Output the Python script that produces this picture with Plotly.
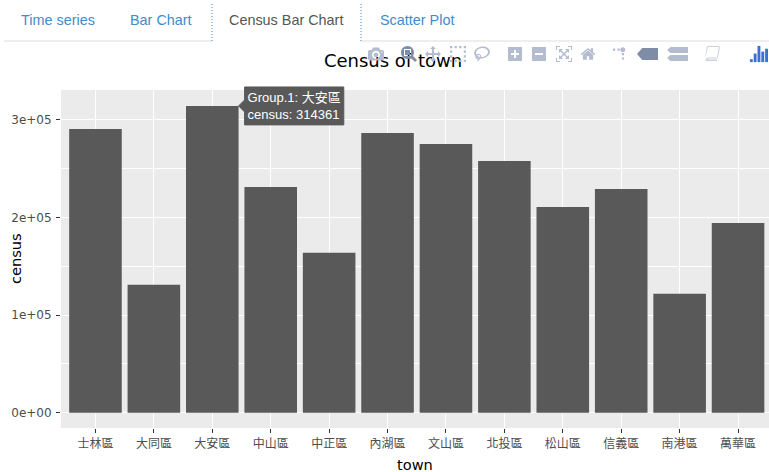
import plotly.graph_objects as go

towns = ["士林區", "大同區", "大安區", "中山區", "中正區", "內湖區", "文山區", "北投區", "松山區", "信義區", "南港區", "萬華區"]
census = [290700, 131000, 314361, 231400, 163800, 286700, 275400, 258000, 210900, 229300, 121800, 194500]
tab_names = ["Time series", "Bar Chart", "Census Bar Chart", "Scatter Plot"]
tab_colors = ["#428BCA", "#428BCA", "#555555", "#428BCA"]
tab_x = [58, 161, 286, 417]
y_ticks = [0, 100000, 200000, 300000]
y_labels = ["0e+00", "1e+05", "2e+05", "3e+05"]

W = 769
H = 472
L, R, T, B = 61, 769, 90, 428
CJK = "'DejaVu Sans', 'Noto Sans CJK TC', sans-serif"


def px(x):
    return (x - L) / (R - L)


def py(y):
    return (B - y) / (B - T)


# bars, with the ggplotly style hover text
trace = go.Bar(
    x=towns,
    y=census,
    width=0.9,
    marker=dict(color="#595959", line=dict(width=0)),
    hovertext=[f"Group.1: {t}<br>census: {c}" for t, c in zip(towns, census)],
    hoverinfo="text",
    hoverlabel=dict(bgcolor="#595959", bordercolor="#595959",
                    font=dict(family="'Liberation Sans', 'Noto Sans CJK TC'", size=13, color="white")),
)

# tab bar above the plot
shapes = [
    dict(type="line", xref="paper", yref="paper", x0=px(4), x1=px(212), y0=py(41), y1=py(41),
         line=dict(color="#DDDDDD", width=1)),
    dict(type="line", xref="paper", yref="paper", x0=px(361), x1=px(769), y0=py(41), y1=py(41),
         line=dict(color="#DDDDDD", width=1)),
    dict(type="line", xref="paper", yref="paper", x0=px(212), x1=px(212), y0=py(4), y1=py(41),
         line=dict(color="#428BCA", width=1, dash="1px,2px")),
    dict(type="line", xref="paper", yref="paper", x0=px(361), x1=px(361), y0=py(4), y1=py(41),
         line=dict(color="#428BCA", width=1, dash="1px,2px")),
]
annotations = [
    dict(text=name, x=px(x), y=py(20), xref="paper", yref="paper", showarrow=False,
         xanchor="center", yanchor="middle",
         font=dict(family="'Liberation Sans', Arial, sans-serif", size=14.4, color=color))
    for name, color, x in zip(tab_names, tab_colors, tab_x)
]
# axis titles placed by hand so the margins stay fixed
annotations += [
    dict(text="town", x=px(415), y=py(464), xref="paper", yref="paper", showarrow=False,
         xanchor="center", yanchor="middle", font=dict(size=14.6, color="black")),
    dict(text="census", x=px(15), y=py(259), xref="paper", yref="paper", showarrow=False,
         xanchor="center", yanchor="middle", textangle=-90, font=dict(size=14.6, color="black")),
]

fig = go.Figure(data=[trace])
fig.update_layout(
    width=W,
    height=H,
    margin=dict(l=L, r=W - R, t=T, b=H - B, pad=0),
    paper_bgcolor="white",
    plot_bgcolor="#EBEBEB",
    bargap=0.1,
    showlegend=False,
    hovermode="closest",
    font=dict(family=CJK),
    title=dict(text="Census of town", x=393 / W, xanchor="center",
               y=1 - 61 / H, yanchor="middle", font=dict(family=CJK, size=18, color="black")),
    shapes=shapes,
    annotations=annotations,
    modebar=dict(bgcolor="rgba(0,0,0,0)", color="#B4BCCF", activecolor="#7F8CA8"),
)
fig.update_xaxes(
    type="category",
    categoryorder="array",
    categoryarray=towns,
    range=[-0.59, 11.53],
    automargin=False,
    tickfont=dict(size=12, color="#4D4D4D"),
    ticks="outside",
    ticklen=4,
    tickcolor="#333333",
    ticklabelstandoff=1,
    gridcolor="white",
    gridwidth=1,
    zeroline=False,
)
fig.update_yaxes(
    range=[-15700, 330700],
    automargin=False,
    tickvals=y_ticks,
    ticktext=y_labels,
    tickfont=dict(size=12, color="#4D4D4D"),
    ticks="outside",
    ticklen=4,
    tickcolor="#333333",
    ticklabelstandoff=2,
    gridcolor="white",
    gridwidth=1,
    zeroline=False,
    minor=dict(tickvals=[50000, 150000, 250000], showgrid=True, gridcolor="white", gridwidth=0.5, ticks=""),
)

# page tweaks: no body margin, modebar under the tabs, old style logo and book button, hover on 大安區
post = """
document.body.style.margin = '0';
var gd = document.getElementById('{plot_id}');
var css = document.createElement('style');
css.textContent = '.modebar-btn { padding-left: 4.25px !important; padding-right: 4.25px !important; }';
document.head.appendChild(css);
var box = gd.querySelector('.modebar-container');
if (box) { box.style.top = '41px'; box.style.right = '-5px'; box.style.width = '100%'; }
gd.querySelectorAll('.modebar-btn[data-val="closest"] svg, .modebar-btn[data-val="x"] svg').forEach(function (s) {
    s.setAttribute('preserveAspectRatio', 'none');
    s.style.width = '21px';
});
var logo = gd.querySelector('.modebar-btn--logo');
if (logo) {
    var bars = '';
    [[2,16,3],[6,10,9],[10,2,17],[14,8,11],[18,5,14]].forEach(function (b) {
        bars += '<rect x="' + b[0] + '" y="' + b[1] + '" width="3" height="' + b[2] + '" fill="#3D6FD0"/>';
    });
    logo.innerHTML = '<svg width="20" height="20" viewBox="0 0 21 21">' + bars + '</svg>';
    var logoGroup = logo.parentNode;
    logoGroup.style.marginLeft = '11px';
    var book = document.createElement('div');
    book.className = 'modebar-group';
    book.innerHTML = '<a class="modebar-btn"><svg width="16" height="16" viewBox="0 0 16 16">'
        + '<path d="M4 1h11l-2 10.5H3.2L1.5 14c0 .6.4 1 1 1h10.4l.3-1.5H3.5l.4-1h9.8L16 1.5 15 0H4C3.4 0 3 .4 2.8 1L1 12z" fill="#CBD0DD"/>'
        + '</svg></a>';
    logoGroup.parentNode.insertBefore(book, logoGroup);
}
Plotly.Fx.hover(gd, [{curveNumber: 0, pointNumber: 2}]);
"""

fig.write_html(
    "out.html",
    post_script=post,
    config=dict(
        displayModeBar=True,
        displaylogo=True,
        modeBarButtons=[
            ["toImage"],
            ["zoom2d", "pan2d", "select2d", "lasso2d"],
            ["zoomIn2d", "zoomOut2d", "autoScale2d", "resetScale2d"],
            ["toggleSpikelines", "hoverClosestCartesian", "hoverCompareCartesian"],
        ],
    ),
)
